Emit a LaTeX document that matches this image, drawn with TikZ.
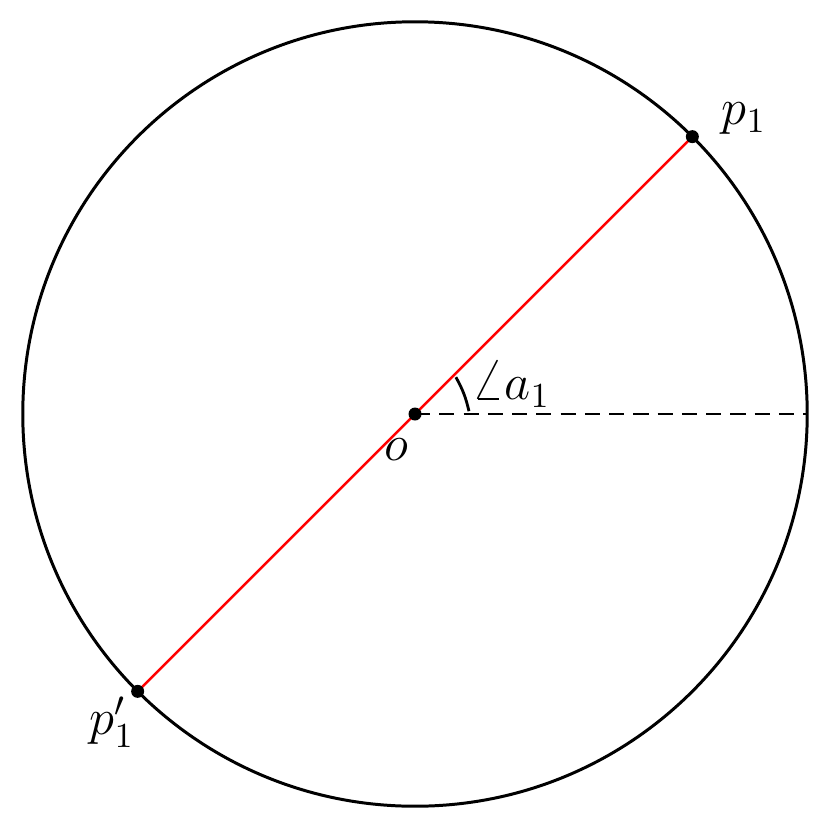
\documentclass[tikz,border=0pt]{standalone}
\usetikzlibrary{calc}
\pgfdeclarelayer{bg}
\pgfsetlayers{bg,main}
\begin{document}
\begin{tikzpicture}[x=0.01cm,y=-0.01cm,
  circ/.style={line width=0.85pt,draw=black},
  diam/.style={line width=0.7pt,draw=red},
  dashln/.style={line width=0.8pt,dash pattern=on 4.3pt off 2.6pt},
  dot/.style={circle,fill=black,inner sep=0pt,minimum size=0.13cm},
  lbl/.style={font=\fontsize{14.5}{16}\selectfont,inner sep=0pt}]
\useasboundingbox (0,0) rectangle (830,830);
\coordinate (o) at (415,414);
\coordinate (e) at (806,414);
\node[dot] (p1) at ($(o)+(45:3.92cm)$) {};
\node[dot] (p1b) at ($(o)+(225:3.92cm)$) {};
\node[dot] (od) at (o) {};
\begin{pgfonlayer}{bg}
\draw[circ] (o) circle (3.92cm);
\draw[diam] (p1b.center) -- (p1.center);
\draw[dashln] (od.center) -- (e);
\end{pgfonlayer}
\coordinate (a0) at ($(o)+(3:0.54cm)$);
\coordinate (a1) at ($(o)+(42:0.55cm)$);
\draw[line width=0.8pt] (a0) to[bend right=8] (a1);
\node[lbl] (lp1) at (744,119) {$p_1$};
\node[lbl] (lp1b) at (112,722) {$p_1'$};
\node[lbl] (lo) at (396,450) {$o$};
\node[lbl] (la) at (511,384) {$\mathord{\scalebox{1.2}{$\angle$}}a_1$};
\end{tikzpicture}
\end{document}
